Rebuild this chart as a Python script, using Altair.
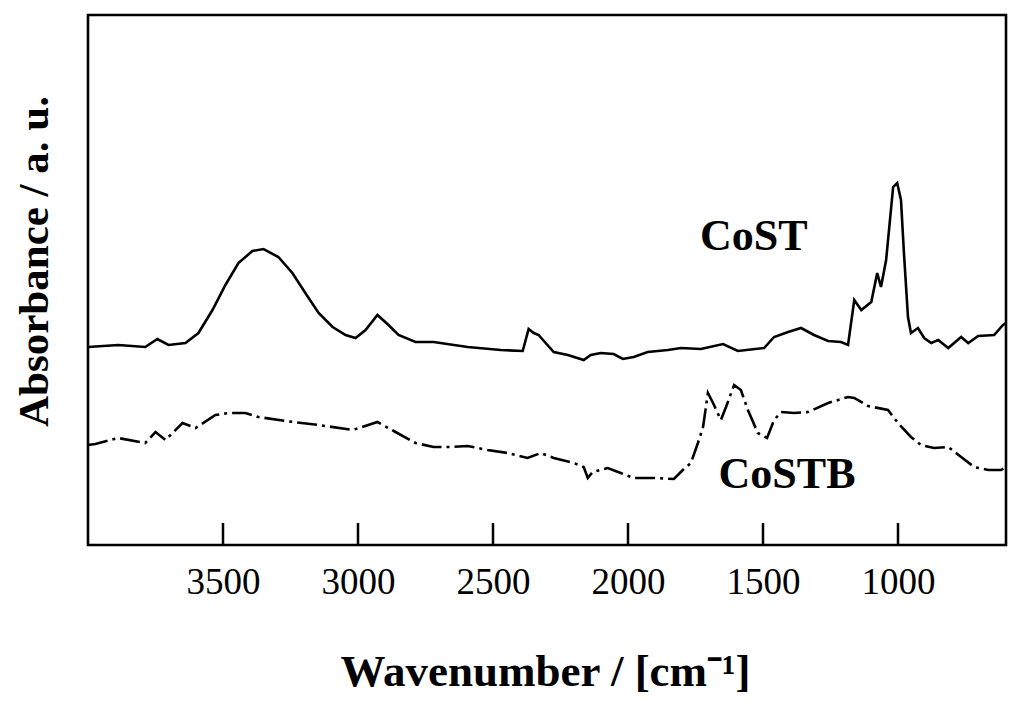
import altair as alt
import pandas as pd

# CoST spectrum (solid line)
cost_wn = [4000, 3888, 3788, 3743, 3702, 3639, 3591, 3539, 3491, 3443,
           3391, 3350, 3295, 3243, 3195, 3146, 3094, 3046, 3009, 2972,
           2928, 2887, 2850, 2787, 2720, 2594, 2471, 2390, 2368, 2349,
           2331, 2305, 2275, 2223, 2164, 2138, 2101, 2053, 2019, 1979,
           1927, 1852, 1804, 1730, 1648, 1593, 1496, 1459, 1407, 1359,
           1311, 1259, 1211, 1185, 1162, 1136, 1099, 1077, 1063, 1044,
           1018, 1003, 989, 978, 963, 952, 926, 903, 877, 851,
           814, 766, 740, 703, 644, 611, 600]
cost_abs = [1.98, 2.00, 1.98, 2.06, 2.00, 2.02, 2.12, 2.35, 2.60, 2.82,
            2.94, 2.96, 2.88, 2.72, 2.52, 2.32, 2.18, 2.10, 2.07, 2.15,
            2.30, 2.20, 2.10, 2.03, 2.03, 1.98, 1.95, 1.94, 2.16, 2.12,
            2.10, 2.02, 1.93, 1.90, 1.85, 1.90, 1.92, 1.91, 1.86, 1.88,
            1.93, 1.95, 1.97, 1.96, 2.01, 1.94, 1.97, 2.08, 2.13, 2.17,
            2.10, 2.04, 2.03, 2.00, 2.45, 2.35, 2.43, 2.72, 2.58, 2.85,
            3.58, 3.62, 3.45, 2.92, 2.28, 2.12, 2.17, 2.07, 2.02, 2.05,
            1.97, 2.08, 2.02, 2.09, 2.10, 2.20, 2.22]

# CoSTB spectrum (dash-dot line)
costb_wn = [4000, 3973, 3888, 3788, 3750, 3713, 3650, 3602, 3528, 3480,
            3417, 3369, 3269, 3146, 3020, 2928, 2861, 2787, 2720, 2657,
            2594, 2520, 2446, 2372, 2323, 2275, 2201, 2164, 2149, 2131,
            2075, 2027, 1979, 1905, 1830, 1797, 1767, 1741, 1722, 1704,
            1685, 1656, 1637, 1607, 1582, 1556, 1519, 1485, 1459, 1433,
            1385, 1333, 1259, 1185, 1162, 1111, 1037, 1000, 952, 915,
            867, 814, 766, 718, 666, 618, 600]
costb_abs = [1.00, 1.01, 1.07, 1.02, 1.13, 1.05, 1.22, 1.17, 1.30, 1.32,
             1.32, 1.28, 1.24, 1.20, 1.15, 1.23, 1.13, 1.02, 0.98, 0.98,
             0.99, 0.95, 0.92, 0.87, 0.92, 0.87, 0.82, 0.78, 0.67, 0.73,
             0.77, 0.72, 0.67, 0.67, 0.66, 0.75, 0.82, 1.02, 1.18, 1.52,
             1.42, 1.25, 1.38, 1.60, 1.55, 1.35, 1.12, 1.07, 1.25, 1.33,
             1.32, 1.33, 1.42, 1.48, 1.47, 1.39, 1.35, 1.22, 1.08, 1.00,
             0.97, 0.98, 0.88, 0.78, 0.75, 0.75, 0.78]

tick_values = [3500, 3000, 2500, 2000, 1500, 1000]

labels = ["CoST", "CoSTB"]
label_wn = [1534, 1411]
label_abs = [2.95, 0.57]

cost = pd.DataFrame({"wn": cost_wn, "abs": cost_abs})
costb = pd.DataFrame({"wn": costb_wn, "abs": costb_abs})
ticks = pd.DataFrame({"wn": tick_values, "lo": 0.0, "hi": 0.22})
text_df = pd.DataFrame({"wn": label_wn, "abs": label_abs, "name": labels})

FONT = "Liberation Serif"

x_enc = alt.X(
    "wn:Q",
    scale=alt.Scale(domain=[600, 4000], reverse=True, nice=False, zero=False),
    axis=alt.Axis(
        values=tick_values,
        format="d",
        grid=False,
        domain=False,
        ticks=False,
        labelFont=FONT,
        labelFontSize=37,
        labelColor="black",
        labelPadding=19,
        title="Wavenumber / [cm⁻¹]",
        titleFont=FONT,
        titleFontSize=45,
        titleFontWeight="bold",
        titleColor="black",
        titleBaseline="alphabetic",
        titleAlign="center",
        titleX=457,
        titleY=140,
    ),
)
y_enc = alt.Y(
    "abs:Q",
    scale=alt.Scale(domain=[0, 5.3], nice=False, zero=False),
    axis=alt.Axis(
        grid=False,
        domain=False,
        ticks=False,
        labels=False,
        title="Absorbance / a. u.",
        titleFont=FONT,
        titleFontSize=43,
        titleFontWeight="bold",
        titleColor="black",
        titleAngle=-90,
        titleBaseline="alphabetic",
        titleAlign="center",
        titleX=-41,
        titleY=246,
    ),
)

line_cost = alt.Chart(cost).mark_line(color="black", strokeWidth=2.6).encode(
    x=x_enc, y=y_enc
)
line_costb = alt.Chart(costb).mark_line(
    color="black", strokeWidth=2.6, strokeDash=[20, 5, 3, 5]
).encode(x="wn:Q", y="abs:Q")

tick_marks = alt.Chart(ticks).mark_rule(color="black", strokeWidth=2.5).encode(
    x="wn:Q", y="lo:Q", y2="hi:Q"
)

names = alt.Chart(text_df).mark_text(
    font=FONT, fontSize=44, fontWeight="bold", color="black",
    align="center", baseline="alphabetic"
).encode(x="wn:Q", y="abs:Q", text="name:N")

chart = (
    alt.layer(line_cost, line_costb, tick_marks, names)
    .properties(
        width=918,
        height=530,
        autosize="none",
        padding={"left": 80, "top": 7, "right": 10, "bottom": 150},
    )
    .configure_view(stroke="black", strokeWidth=2.6)
)

chart.save("out.html", embed_options={"renderer": "svg", "actions": False})
